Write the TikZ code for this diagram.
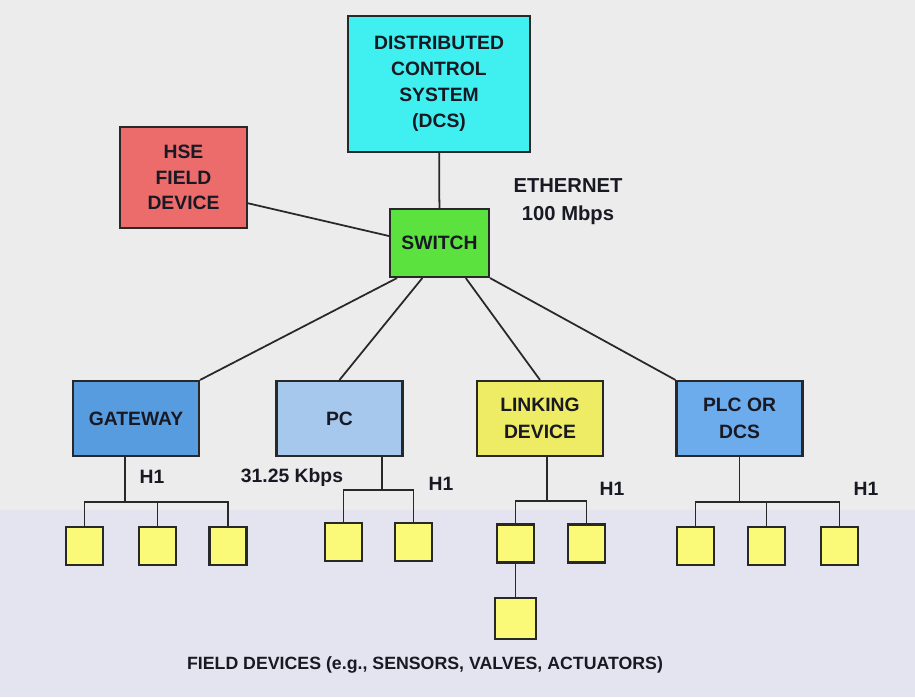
\documentclass[tikz,border=0pt]{standalone}
\usepackage{fontspec}
\setmainfont{Liberation Sans}
\usetikzlibrary{calc,positioning}
\definecolor{bggrey}{RGB}{236,236,236}
\definecolor{bglav}{RGB}{228,228,240}
\definecolor{boxline}{RGB}{40,40,40}
\definecolor{textdark}{RGB}{25,25,35}
\definecolor{dcscyan}{RGB}{64,240,240}
\definecolor{hsered}{RGB}{236,108,108}
\definecolor{switchgreen}{RGB}{92,226,62}
\definecolor{gwblue}{RGB}{88,156,224}
\definecolor{pcblue}{RGB}{166,200,236}
\definecolor{linkyellow}{RGB}{238,236,100}
\definecolor{plcblue}{RGB}{108,172,236}
\definecolor{devyellow}{RGB}{250,250,120}
\begin{document}
\begin{tikzpicture}[x=0.02cm, y=-0.02cm, font=\fontsize{11}{15}\selectfont\bfseries]
\tikzstyle{box} = [rectangle, draw=boxline, line width=1.2pt, align=center, text=textdark, inner sep=2pt]
\tikzstyle{lanbox} = [box, minimum width=2.52cm, minimum height=1.5cm]
\tikzstyle{fielddev} = [rectangle, draw=boxline, line width=1.3pt, fill=devyellow, minimum width=0.74cm, minimum height=0.76cm]
\tikzstyle{wire} = [draw=boxline, line width=1pt]
\tikzstyle{lbl} = [text=textdark]
% background
\fill[bggrey] (0,0) rectangle (915,697);
\fill[bglav] (0,510) rectangle (915,697);
\useasboundingbox (0,0) rectangle (915,697);
% ethernet level
\node (dcs) [box, fill=dcscyan, minimum width=3.64cm, minimum height=2.72cm, font=\fontsize{11}{14.8}\selectfont\bfseries] at (439,84) {DISTRIBUTED\\CONTROL\\SYSTEM\\(DCS)};
\node (hse) [box, fill=hsered, minimum width=2.54cm, minimum height=2.02cm, font=\fontsize{11}{14.6}\selectfont\bfseries] at (183.5,177.5) {HSE\\FIELD\\DEVICE};
\node (switch) [box, fill=switchgreen, minimum width=1.98cm, minimum height=1.36cm] at (439.5,243) {SWITCH};
\node (eth) [lbl, align=center, font=\fontsize{11.5}{16}\selectfont\bfseries] at (568,202) {ETHERNET\\100 Mbps};
\node (gw) [lanbox, fill=gwblue] at (136,418.5) {GATEWAY};
\node (pc) [lanbox, fill=pcblue] at (339.5,418.5) {PC};
\node (link) [lanbox, fill=linkyellow] at (540,418.5) {LINKING\\DEVICE};
\node (plc) [lanbox, fill=plcblue] at (739.5,418.5) {PLC OR\\DCS};
\draw [wire] (dcs) -- (switch);
\draw [wire] ($(hse.south east)!0.25!(hse.north east)$) -- ($(switch.south west)!0.6!(switch.north west)$);
\draw [wire] ($(switch.south west)!0.08!(switch.south east)$) -- (gw.north east);
\draw [wire] ($(switch.south west)!0.33!(switch.south east)$) -- (pc.north);
\draw [wire] ($(switch.south west)!0.76!(switch.south east)$) -- (link.north);
\draw [wire] (switch.south east) -- (plc.north west);
% H1 field devices
\node (d1) [fielddev] at (84.5,546) {};
\node (d2) [fielddev] at (157.5,546) {};
\node (d3) [fielddev] at (228,546) {};
\node (d4) [fielddev] at (343.5,542) {};
\node (d5) [fielddev] at (413.5,542) {};
\node (d6) [fielddev] at (515.5,543.5) {};
\node (d7) [fielddev] at (586.5,543.5) {};
\node (d8) [fielddev, minimum width=0.82cm, minimum height=0.82cm, below=0.66cm of d6] {};
\node (d9) [fielddev] at (695.5,546) {};
\node (d10) [fielddev] at (766.5,546) {};
\node (d11) [fielddev] at (839.5,546) {};
\coordinate (gwbus) at (125,502);
\coordinate (pcbus) at (382,490);
\coordinate (linkbus) at (547,501);
\coordinate (plcbus) at (739.5,502);
\draw [wire] (gwbus |- gw.south) -- (gwbus);
\draw [wire] (d1.north) |- (d3.north |- gwbus) -- (d3.north);
\draw [wire] (d2.north) -- (d2.north |- gwbus);
\draw [wire] (pcbus |- pc.south) -- (pcbus);
\draw [wire] (d4.north) |- (d5.north |- pcbus) -- (d5.north);
\draw [wire] (linkbus |- link.south) -- (linkbus);
\draw [wire] (d6.north) |- (d7.north |- linkbus) -- (d7.north);
\draw [wire] (d6.south) -- (d8.north);
\draw [wire] (plc.south) -- (plcbus);
\draw [wire] (d9.north) |- (d11.north |- plcbus) -- (d11.north);
\draw [wire] (d10.north) -- (d10.north |- plcbus);
% bus labels
\node (h1gw) [lbl] at (152,477) {H1};
\node (rate) [lbl] at (292,477) {31.25 Kbps};
\node (h1pc) [lbl] at (441,484) {H1};
\node (h1link) [lbl] at (612,489) {H1};
\node (h1plc) [lbl] at (866,489) {H1};
\node (field) [lbl, font=\fontsize{10.1}{12}\selectfont\bfseries] at (425,665) {FIELD DEVICES (e.g., SENSORS, VALVES, ACTUATORS)};
\end{tikzpicture}
\end{document}
